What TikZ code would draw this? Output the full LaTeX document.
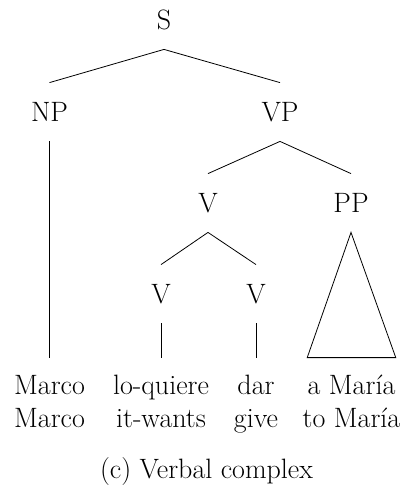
\documentclass[tikz,border=0pt]{standalone}
\usepackage{fontspec}
\usepackage{tikz}

\begin{document}
\begin{tikzpicture}[
		x=1pt,
		y=-1pt,
		line width=0.8pt,
		font=\fontsize{28}{33}\selectfont,
		cat/.style={anchor=base, inner xsep=0pt, inner ysep=20pt, text height=18pt, text depth=0pt},
		leaf/.style={anchor=base, inner xsep=0pt, inner ysep=18pt, text height=18pt, text depth=0pt},
		gloss/.style={anchor=base, inner sep=0pt}
		]
		\useasboundingbox (0,0) rectangle (403,488);
		
		% categories
		\node[cat] (s) at (164,29) {S};
		\node[cat] (np) at (49.5,121) {NP};
		\node[cat] (vp) at (280,121) {VP};
		\node[cat] (v) at (208,212) {V};
		\node[cat] (pp) at (351,212) {PP};
		\node[cat] (v1) at (161,303) {V};
		\node[cat] (v2) at (256,303) {V};
		
		% words and glosses
		\node[leaf] (marco) at (49.5,394) {Marco};
		\node[leaf] (loquiere) at (161,394) {lo-quiere};
		\node[leaf] (dar) at (256,394) {dar};
		\node[leaf] (amaria) at (351.5,394) {a María};
		\node[gloss] (marcog) at (49.5,427) {Marco};
		\node[gloss] (itwants) at (161,427) {it-wants};
		\node[gloss] (give) at (256,427) {give};
		\node[gloss] (tomaria) at (351.5,427) {to María};
		
		\node[gloss] (caption) at (206.5,478) {(c) Verbal complex};
		
		\path
		(s.south) edge (np.north)
		(s.south) edge (vp.north)
		(np.south) edge (marco.north)
		(vp.south) edge (v.north)
		(vp.south) edge (pp.north)
		(v.south) edge (v1.north)
		(v.south) edge (v2.north)
		(v1.south) edge (loquiere.north)
		(v2.south) edge (dar.north);
		\draw (pp.south) -- (amaria.north west) -- (amaria.north east) -- cycle;
	\end{tikzpicture}
\end{document}
